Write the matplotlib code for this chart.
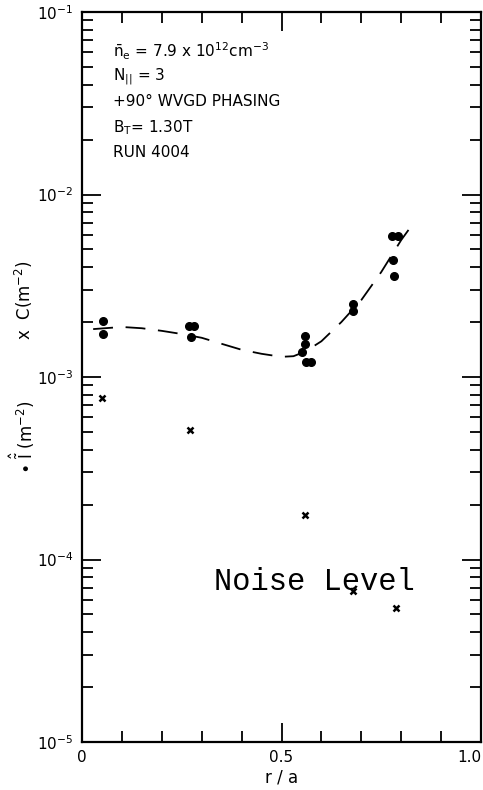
import numpy as np
import matplotlib
matplotlib.use('Agg')
import matplotlib.pyplot as plt
from matplotlib.ticker import LogLocator, MultipleLocator, NullFormatter, FixedLocator

# measured points (dots), r/a vs I (m^-2)
dot_r = [0.053, 0.053, 0.268, 0.281, 0.273,
         0.559, 0.559, 0.551, 0.561, 0.574,
         0.68, 0.68, 0.777, 0.792, 0.78, 0.782]
dot_v = [2.03e-3, 1.72e-3, 1.90e-3, 1.90e-3, 1.66e-3,
         1.68e-3, 1.52e-3, 1.37e-3, 1.21e-3, 1.21e-3,
         2.51e-3, 2.30e-3, 5.93e-3, 5.93e-3, 4.38e-3, 3.58e-3]

# C values (crosses)
x_r = [0.05, 0.27, 0.559, 0.68, 0.787]
x_v = [7.7e-4, 5.1e-4, 1.75e-4, 6.7e-5, 5.4e-5]

# dashed fit curve
fit_r = [0.028, 0.10, 0.15, 0.20, 0.25, 0.30, 0.35, 0.40, 0.45, 0.50,
         0.53, 0.56, 0.60, 0.65, 0.70, 0.75, 0.80, 0.825]
fit_v = [1.83e-3, 1.88e-3, 1.85e-3, 1.79e-3, 1.72e-3, 1.64e-3, 1.52e-3,
         1.41e-3, 1.34e-3, 1.29e-3, 1.30e-3, 1.38e-3, 1.57e-3, 2.0e-3,
         2.64e-3, 3.76e-3, 5.63e-3, 6.7e-3]

info_lines = [r'$\bar{\mathrm{n}}_\mathrm{e}$ = 7.9 x 10$^{12}$cm$^{-3}$',
              r'N$_{||}$ = 3',
              '+90\u00b0 WVGD PHASING',
              r'B$_\mathrm{T}$= 1.30T',
              'RUN 4004']

plt.rcParams['mathtext.default'] = 'regular'
plt.rcParams['font.family'] = 'DejaVu Sans'

fig = plt.figure(figsize=(4.83, 7.90), dpi=100)
ax = fig.add_axes([82 / 483, 48 / 790, 399 / 483, 730 / 790])

ax.plot(fit_r, fit_v, color='black', lw=1.3, dashes=(11, 7))
ax.plot(dot_r, dot_v, 'o', color='black', ms=5.5)
ax.plot(x_r, x_v, 'x', color='black', ms=5, mew=1.8)

ax.set_yscale('log')
ax.set_xlim(0, 1.0)
ax.set_ylim(1e-5, 1e-1)

for s in ax.spines.values():
    s.set_linewidth(1.6)

ax.xaxis.set_major_locator(FixedLocator([0, 0.5, 1.0]))
ax.xaxis.set_minor_locator(MultipleLocator(0.1))
ax.set_xticklabels(['0', '0.5', '1.0'])
ax.get_xticklabels()[-1].set_horizontalalignment('right')
ax.yaxis.set_major_locator(LogLocator(base=10, numticks=10))
ax.yaxis.set_minor_locator(LogLocator(base=10, subs=np.arange(2, 10), numticks=10))
ax.yaxis.set_minor_formatter(NullFormatter())
ax.tick_params(which='both', direction='in', top=True, right=True, width=1.3,
               labelsize=11)
ax.tick_params(which='major', length=14, pad=6)
ax.tick_params(which='minor', length=8)

ax.set_xlabel('r / a', fontsize=12, labelpad=2)

fig.text(0.045, 1 - 437 / 790, r'$\bullet\ \hat{\tilde{I}}$ (m$^{-2}$)', rotation=90,
         fontsize=12, ha='center', va='center')
fig.text(0.05, 1 - 300 / 790, r'x  C(m$^{-2}$)', rotation=90,
         fontsize=12, ha='center', va='center')

y0 = 0.935
for i, line in enumerate(info_lines):
    fig.text(113 / 483, y0 - i * 0.032, line, fontsize=11, ha='left', va='center')

ax.text(0.33, 6.8e-5, 'Noise Level', family='Liberation Mono', fontsize=22,
        ha='left', va='baseline')

fig.savefig('out.png', dpi=100)
